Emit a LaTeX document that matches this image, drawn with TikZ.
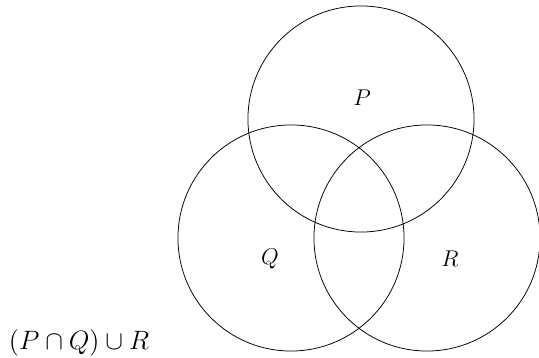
\documentclass[tikz,border=0pt]{standalone}
\usepackage{amsmath}
\usetikzlibrary{positioning}
\begin{document}
\begin{tikzpicture}[x=0.5263pt, y=-0.5263pt,
    setc/.style={draw, circle, minimum size=119pt, inner sep=0pt},
    setlab/.style={font=\large}]
  \useasboundingbox (0,0) rectangle (539,358);
  \node[setc] (setP) at (361,119) {};
  \node[setc] (setQ) at (291,238) {};
  \node[setc] (setR) at (427,238) {};
  \node[setlab] (labP) at (362,98)  {$P$};
  \node[setlab] (labQ) at (270,259) {$Q$};
  \node[setlab] (labR) at (450,259) {$R$};
  \node[font=\Large, scale=0.97] (expr) at (79,343) {$(P \cap Q) \cup R$};
\end{tikzpicture}
\end{document}
